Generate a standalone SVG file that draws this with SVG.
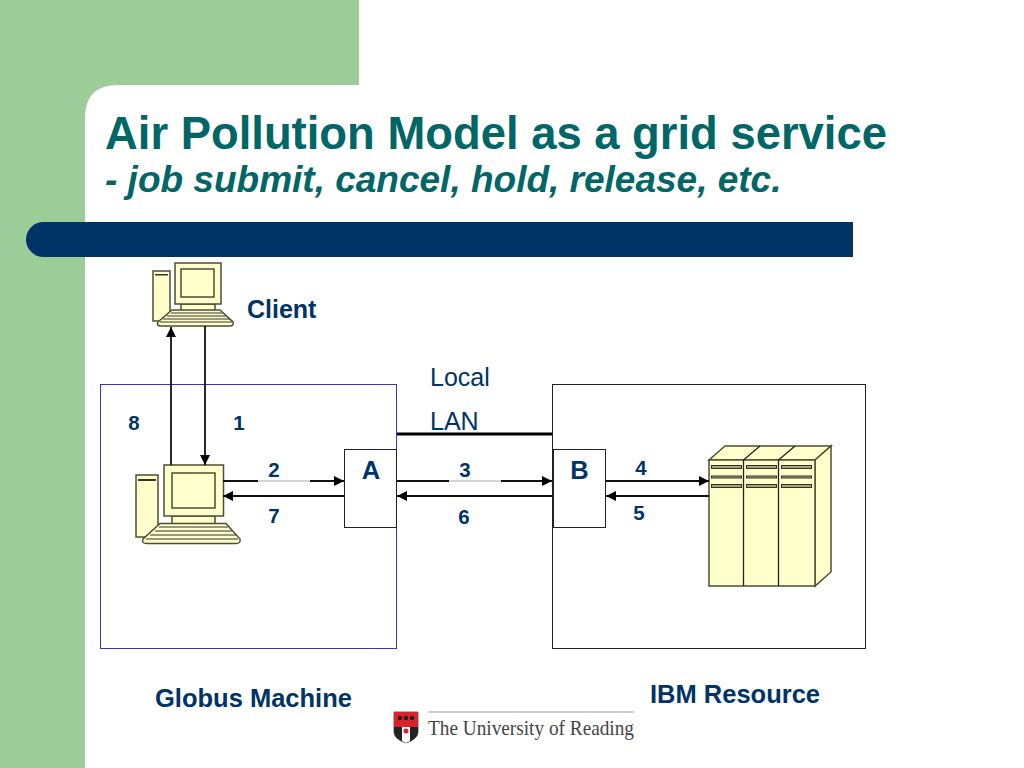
<svg xmlns="http://www.w3.org/2000/svg" width="1024" height="768" viewBox="0 0 1024 768">
<style>
.l{font-family:"Liberation Sans",Arial,sans-serif;fill:#003366;font-weight:bold;font-size:25.500px}
.n{font-size:20.500px;text-anchor:middle}
.p{fill:#ffffcc;stroke:#4d4d33;stroke-width:1.5}
.s{fill:#a3a380;stroke:#333322;stroke-width:1}
.c{stroke:#111;stroke-width:1.8;fill:none}
.r{font-family:"Liberation Sans",Arial,sans-serif;font-size:25px;fill:#003366}
</style>
<defs>
<marker id="a" viewBox="0 0 10 10" refX="10" refY="5" markerWidth="11" markerHeight="10" markerUnits="userSpaceOnUse" orient="auto"><path d="M0 0L10 5L0 10z" fill="#000"/></marker>
</defs>
<rect width="1024" height="768" fill="#fff"/>
<path id="bg" d="M0 0H359V85H118Q85 85 85 118V768H0z" fill="#9ccc98"/>
<text x="105" y="149" style="font-family:'Liberation Sans',Arial,sans-serif;font-weight:bold;font-size:45.400px;fill:#006666">Air Pollution Model as a grid service</text>
<text x="105" y="192" style="font-family:'Liberation Sans',Arial,sans-serif;font-weight:bold;font-style:italic;font-size:37px;fill:#006666">- job submit, cancel, hold, release, etc.</text>
<path id="bar" d="M43.500 222H853V257H43.500A17.500 17.500 0 0 1 43.500 222z" fill="#003366"/>

<g id="globus-box"><rect x="100.500" y="384.500" width="296" height="264" fill="none" stroke="#3333dd" stroke-width="1"/></g>
<g id="ibm-box"><rect x="552.500" y="384.500" width="313" height="264" fill="none" stroke="#222" stroke-width="1"/></g>

<g id="client">
<rect class="p" x="153" y="271" width="17" height="50"/><rect x="155" y="274" width="13" height="1.500" fill="#333"/>
<rect class="p" x="181" y="304" width="34" height="7"/>
<rect class="p" x="175" y="263" width="46" height="41"/><rect class="p" x="181" y="269" width="33" height="28"/>
<path class="p" d="M172 310H220L233 322Q234 326 230 326H161Q156 326 158 322z"/>
<path d="M171 313H222M167 316H226M163 319H230M160 322H232" stroke="#333" stroke-width="1"/>
</g>
<g id="globus-computer">
<rect class="p" x="136" y="475" width="22" height="62"/><rect x="138" y="479" width="18" height="2" fill="#333"/>
<rect class="p" x="172" y="516" width="43" height="8"/>
<rect class="p" x="164" y="465" width="59.500" height="51"/><rect class="p" x="172" y="473" width="43" height="35"/>
<path class="p" d="M160 523.500H226L240 539Q241 543.500 236 543.500H147Q141 543.500 143 539z"/>
<path d="M159 527H228M155 531H232M150 535H236M146 539H238" stroke="#333" stroke-width="1"/>
</g>
<g id="server">
<path class="p" d="M709 460L725 446H831L815 460z"/><path class="p" d="M815 460L831 446V572L815 586z"/>
<rect class="p" x="709" y="460" width="106" height="126"/>
<path d="M743.500 460V586M778.500 460V586M743.500 460L760 446M778.500 460L795 446" stroke="#222" stroke-width="1.300" fill="none"/>
<g class="s"><rect x="711.500" y="465.500" width="30" height="3"/><rect x="746.500" y="465.500" width="30" height="3"/><rect x="781.500" y="465.500" width="30" height="3"/>
<rect x="711.500" y="476" width="30" height="2"/><rect x="746.500" y="476" width="30" height="2"/><rect x="781.500" y="476" width="30" height="2"/>
<rect x="711.500" y="484.500" width="30" height="3"/><rect x="746.500" y="484.500" width="30" height="3"/><rect x="781.500" y="484.500" width="30" height="3"/></g>
</g>

<g id="connectors">
<path class="c" d="M171 465V327" marker-end="url(#a)"/>
<path class="c" d="M205 326V465" marker-end="url(#a)"/>
<path class="c" d="M223 481H344" marker-end="url(#a)"/>
<path class="c" d="M344 496H223" marker-end="url(#a)"/>
<path class="c" d="M397 481H552" marker-end="url(#a)"/>
<path class="c" d="M552 496H397" marker-end="url(#a)"/>
<path class="c" d="M606 481H709" marker-end="url(#a)"/>
<path class="c" d="M709 496H606" marker-end="url(#a)"/>
<path d="M258 481H310M449 481H501" stroke="#d4d4d4" stroke-width="2.200"/>
<path d="M397 434H552" stroke="#000" stroke-width="3"/>
</g>
<g id="A"><rect x="344.500" y="449.500" width="52" height="78" fill="#fff" stroke="#222"/><text class="l" x="371" y="479" text-anchor="middle">A</text></g>
<g id="B"><rect x="553.500" y="449.500" width="52" height="78" fill="#fff" stroke="#222"/><text class="l" x="579.500" y="479" text-anchor="middle">B</text></g>

<g id="labels">
<text class="l" x="247" y="318" style="font-size:25px">Client</text>
<text class="r" x="430" y="386">Local</text>
<text class="r" x="430" y="430">LAN</text>
<text class="l n" x="134" y="430">8</text>
<text class="l n" x="239" y="430">1</text>
<text class="l n" x="274" y="477">2</text>
<text class="l n" x="274" y="523">7</text>
<text class="l n" x="465" y="477">3</text>
<text class="l n" x="464" y="524">6</text>
<text class="l n" x="641" y="475">4</text>
<text class="l n" x="639" y="520">5</text>
<text class="l" x="155" y="707">Globus Machine</text>
<text class="l" x="650" y="703">IBM Resource</text>
</g>
<g id="logo">
<path d="M394 712H418V732Q418 739 406 743Q394 739 394 732z" fill="#fff" stroke="#666" stroke-width="1"/>
<rect x="394" y="712" width="24" height="15" fill="#d8232a"/>
<path d="M394 727H418V732Q418 739 406 743Q394 739 394 732z" fill="#222"/>
<path d="M402 727H410V741L406 743L402 741z" fill="#fff"/><circle cx="406" cy="731" r="2.500" fill="#d8232a"/>
<g fill="#222"><circle cx="400" cy="718" r="2.200"/><circle cx="406" cy="718" r="2.200"/><circle cx="412" cy="718" r="2.200"/></g>
<path d="M428 712H634" stroke="#999" stroke-width="1.200"/>
<text x="428" y="735" textLength="206" lengthAdjust="spacingAndGlyphs" style="font-family:'Liberation Serif',serif;font-size:22px;fill:#444">The University of Reading</text>
</g>
</svg>
